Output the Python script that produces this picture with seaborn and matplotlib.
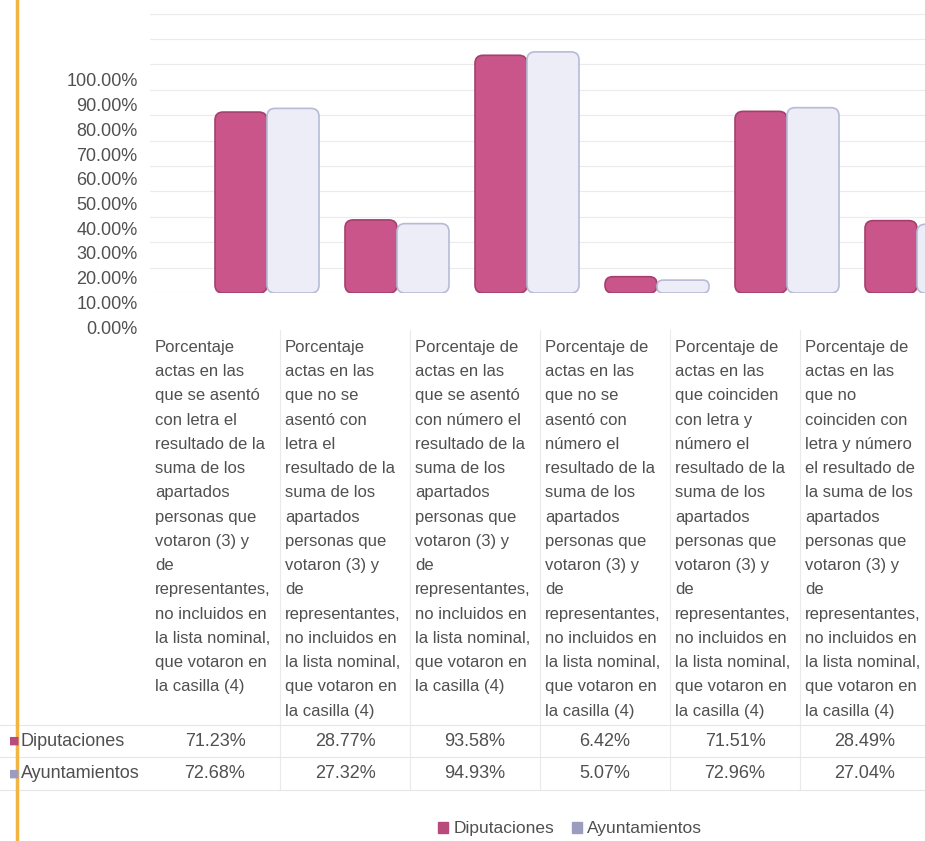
import matplotlib
matplotlib.use('Agg')
import matplotlib.pyplot as plt
import matplotlib.transforms as mtransforms
from matplotlib.patches import FancyBboxPatch
from matplotlib.lines import Line2D
import pandas as pd
import seaborn as sns

# datos
categorias = [
    "Porcentaje\nactas en las\nque se asentó\ncon letra el\nresultado de la\nsuma de los\napartados\npersonas que\nvotaron (3) y\nde\nrepresentantes,\nno incluidos en\nla lista nominal,\nque votaron en\nla casilla (4)",
    "Porcentaje\nactas en las\nque no se\nasentó con\nletra el\nresultado de la\nsuma de los\napartados\npersonas que\nvotaron (3) y\nde\nrepresentantes,\nno incluidos en\nla lista nominal,\nque votaron en\nla casilla (4)",
    "Porcentaje de\nactas en las\nque se asentó\ncon número el\nresultado de la\nsuma de los\napartados\npersonas que\nvotaron (3) y\nde\nrepresentantes,\nno incluidos en\nla lista nominal,\nque votaron en\nla casilla (4)",
    "Porcentaje de\nactas en las\nque no se\nasentó con\nnúmero el\nresultado de la\nsuma de los\napartados\npersonas que\nvotaron (3) y\nde\nrepresentantes,\nno incluidos en\nla lista nominal,\nque votaron en\nla casilla (4)",
    "Porcentaje de\nactas en las\nque coinciden\ncon letra y\nnúmero el\nresultado de la\nsuma de los\napartados\npersonas que\nvotaron (3) y\nde\nrepresentantes,\nno incluidos en\nla lista nominal,\nque votaron en\nla casilla (4)",
    "Porcentaje de\nactas en las\nque no\ncoinciden con\nletra y número\nel resultado de\nla suma de los\napartados\npersonas que\nvotaron (3) y\nde\nrepresentantes,\nno incluidos en\nla lista nominal,\nque votaron en\nla casilla (4)",
]
series = ['Diputaciones', 'Ayuntamientos']
diputaciones = [71.23, 28.77, 93.58, 6.42, 71.51, 28.49]
ayuntamientos = [72.68, 27.32, 94.93, 5.07, 72.96, 27.04]
ticks_y = [0, 10, 20, 30, 40, 50, 60, 70, 80, 90, 100]
grid_y = [0, 10, 20, 30, 40, 50, 60, 70, 80, 90, 100, 110]

colores = ['#C9558B', '#ECEDF7']
bordes = ['#A5406C', '#B7BBD6']
marcas = ['#B84A7E', '#9C9CBE']
gris = '#505050'

sns.set_theme(style='white')
plt.rcParams['font.family'] = ['Liberation Sans', 'DejaVu Sans']

W, H = 925, 841
def fx(px): return px / W
def fy(px): return 1 - px / H

df = pd.DataFrame({
    'cat': categorias * 2,
    'serie': [series[0]] * 6 + [series[1]] * 6,
    'valor': [v / 100 for v in diputaciones + ayuntamientos],
})

fig = plt.figure(figsize=(9.25, 8.41), dpi=100)
fig.patch.set_facecolor('white')

# barras
PX_X, PX_Y = 130, 254
ax = fig.add_axes([fx(150), fy(293), fx(925) - fx(150), 293 / H])
ax.set_facecolor('none')
sns.barplot(data=df, x='cat', y='valor', hue='serie', order=categorias, hue_order=series,
            palette=colores, width=0.8, saturation=1, ax=ax)

for cont, fc, ec in zip(ax.containers, colores, bordes):
    for p in cont:
        x, w, h = p.get_x(), p.get_width(), p.get_height()
        p.set_visible(False)
        r = min(8, h * PX_Y / 2 - 0.5) / PX_X
        ax.add_patch(FancyBboxPatch((x, 0), w, h,
                                    boxstyle=f'round,pad=0,rounding_size={r}',
                                    mutation_aspect=PX_X / PX_Y,
                                    facecolor=fc, edgecolor=ec, lw=1.2, zorder=3))

ax.set_xlim((150 - 267) / PX_X, (925 - 267) / PX_X)
ax.set_ylim(0, 293 / PX_Y)
ax.set_yticks([g / 100 for g in grid_y])
ax.yaxis.grid(True, color='#EBEBEB', lw=0.8)
ax.set_xticks([])
ax.tick_params(left=False, labelleft=False)
ax.set_xlabel('')
ax.set_ylabel('')
sns.despine(ax=ax, left=True, bottom=True)

# leyenda
sns.move_legend(ax, 'center', bbox_to_anchor=(fx(570), fy(829)), bbox_transform=fig.transFigure,
                ncol=2, frameon=False, title=None, fontsize=12.5, handlelength=0.6,
                handleheight=0.6, columnspacing=1.0, handletextpad=0.3)
leg = ax.get_legend()
for hnd, c in zip(leg.legend_handles, marcas):
    hnd.set_facecolor(c)
    hnd.set_edgecolor(c)
for t in leg.get_texts():
    t.set_color(gris)

# eje de porcentajes
ax_y = fig.add_axes([fx(139), fy(327), 0.001, (327 - 80) / H])
ax_y.set_facecolor('none')
ax_y.set_ylim(0, 1)
ax_y.set_yticks([t / 100 for t in ticks_y])
ax_y.set_yticklabels([f'{t:.2f}%' for t in ticks_y])
ax_y.set_xticks([])
ax_y.tick_params(axis='y', length=0, pad=1, labelsize=13, labelcolor=gris)
sns.despine(ax=ax_y, left=True, bottom=True)

# tabla de datos
trans = mtransforms.blended_transform_factory(ax.transData, fig.transFigure)
for i, cat in enumerate(categorias):
    ax.text(i - 0.862, fy(340), cat, transform=trans, ha='left', va='top',
            fontsize=12, linespacing=1.77, color=gris)
    ax.text(i - 0.4, fy(741), f'{diputaciones[i]:.2f}%', transform=trans,
            ha='center', va='center', fontsize=13, color=gris)
    ax.text(i - 0.4, fy(774), f'{ayuntamientos[i]:.2f}%', transform=trans,
            ha='center', va='center', fontsize=13, color=gris)
    if i > 0:
        ax.plot([i - 0.9, i - 0.9], [fy(330), fy(790)], transform=trans,
                color='#EAEAEA', lw=0.8, clip_on=False)

for yy in [725, 757, 790]:
    fig.add_artist(Line2D([fx(0), fx(925)], [fy(yy), fy(yy)], color='#E6E6E6', lw=0.8))

for s, yy, c in zip(series, [741, 774], marcas):
    fig.text(fx(9), fy(yy), '■', color=c, fontsize=8, va='center', ha='left',
             family=['DejaVu Sans'])
    fig.text(fx(21), fy(yy), s, color=gris, fontsize=13, va='center', ha='left')

# borde naranja
fig.add_artist(Line2D([fx(17), fx(17)], [0, 1], color='#F2B544', lw=2.5))

plt.savefig('out.png', dpi=100)
